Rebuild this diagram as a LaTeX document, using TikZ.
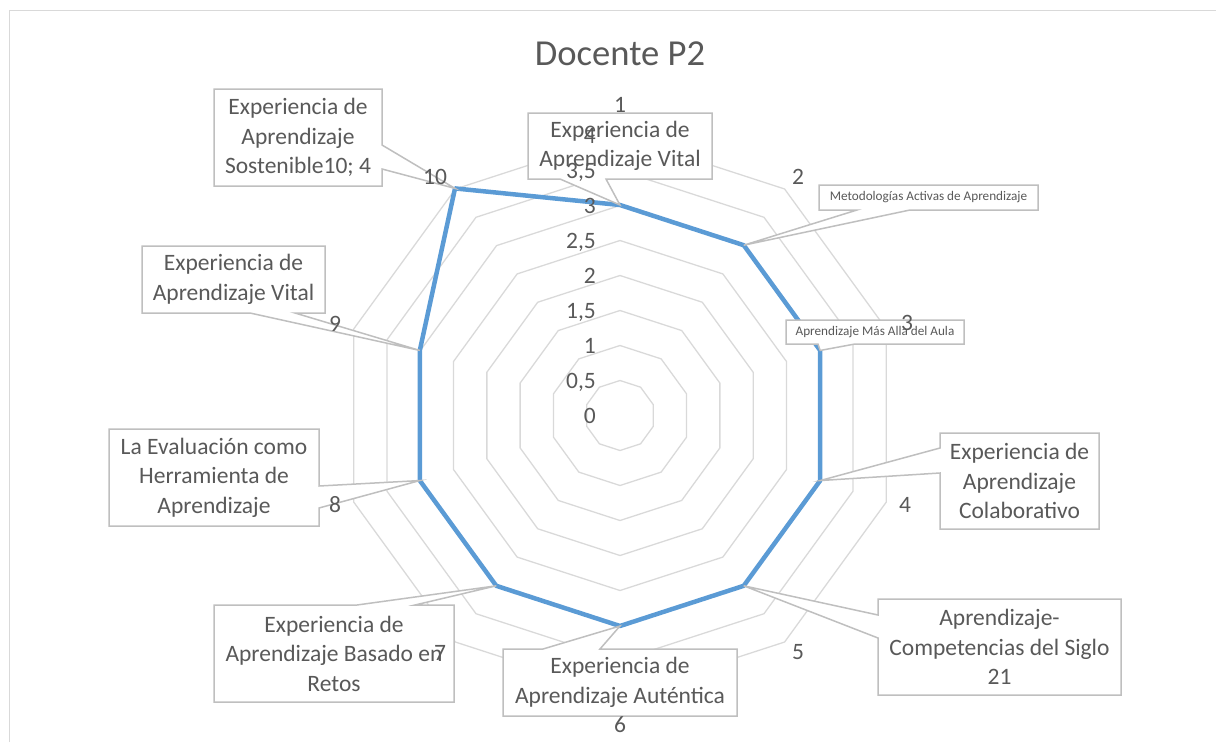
\documentclass[tikz,border=0pt]{standalone}
\usepackage{fontspec}
\setmainfont{Carlito}
\usetikzlibrary{calc}
\definecolor{txt}{HTML}{595959}
\definecolor{boxline}{HTML}{BFBFBF}
\definecolor{grid}{HTML}{D9D9D9}
\definecolor{serie}{HTML}{5B9BD5}
\tikzset{
  gridring/.style={draw=grid, line width=1.3pt},
  serieline/.style={draw=serie, line width=4.5pt, line join=round},
  callout/.style={draw=boxline, fill=white, line width=1.5pt, line join=miter},
  boxtext/.style={text=txt, align=center, inner sep=0pt, font=\fontsize{23.5}{29.5}\selectfont},
  smalltext/.style={text=txt, align=center, inner sep=0pt, font=\fontsize{13.2}{16}\selectfont},
  catlabel/.style={text=txt, anchor=base, inner sep=0pt, font=\fontsize{23.5}{29.5}\selectfont},
  vallabel/.style={text=txt, anchor=base east, inner sep=0pt, font=\fontsize{23.5}{29.5}\selectfont},
  charttitle/.style={text=txt, anchor=base, inner sep=0pt, font=\fontsize{36.6}{44}\selectfont}
}
\begin{document}
\begin{tikzpicture}[x=1pt,y=-1pt]
\useasboundingbox (0,0) rectangle (1216,742);
% chart frame
\draw[grid, line width=1.5pt] (9.5,742) -- (9.5,10.5) -- (1216,10.5);
% title
\node[charttitle] (title) at (620,65) {Docente P2};
% centre
\coordinate (O) at (620,415.5);
% rings
\foreach \r in {35,70,...,280}{
  \draw[gridring] ($(O)+(-90:\r)$) \foreach \k in {1,...,9}{ -- ($(O)+({36*\k-90}:\r)$) } -- cycle;
}
% data points
\coordinate (p1) at ($(O)+(-90:210.5)$);
\coordinate (p2) at ($(O)+(-54:210.5)$);
\coordinate (p3) at ($(O)+(-18:210.5)$);
\coordinate (p4) at ($(O)+(18:210.5)$);
\coordinate (p5) at ($(O)+(54:210.5)$);
\coordinate (p6) at ($(O)+(90:210.5)$);
\coordinate (p7) at ($(O)+(126:210.5)$);
\coordinate (p8) at ($(O)+(162:210.5)$);
\coordinate (p9) at ($(O)+(198:210.5)$);
\coordinate (p10) at ($(O)+(234:280.7)$);
\draw[serieline] (p1) -- (p2) -- (p3) -- (p4) -- (p5) -- (p6) -- (p7) -- (p8) -- (p9) -- (p10) -- cycle;
% callouts
\draw[callout] (528,113) -- (712,113) -- (712,179) -- (606,179) -- (p1) -- (560,179) -- (528,179) -- cycle;
\node[boxtext] (l1) at (620,146) {Experiencia de\\Aprendizaje Vital};
\draw[callout] (819,185) -- (1038,185) -- (1038,210) -- (910,210) -- (p2) -- (857,210) -- (819,210) -- cycle;
\node[smalltext] (l2) at (928.5,197.5) {Metodologías Activas de Aprendizaje};
\draw[callout] (786,320) -- (964,320) -- (964,344) -- (855,344) -- (p3) -- (818,344) -- (786,344) -- cycle;
\node[smalltext] (l3) at (875,332) {Aprendizaje Más Alla del Aula};
\draw[callout] (940,433) -- (1099,433) -- (1099,529) -- (940,529) -- (940,473) -- (p4) -- (940,448) -- cycle;
\node[boxtext] (l4) at (1019.5,481) {Experiencia de\\Aprendizaje\\Colaborativo};
\draw[callout] (878,599) -- (1121,599) -- (1121,695) -- (878,695) -- (878,638) -- (p5) -- (878,615) -- cycle;
\node[boxtext] (l5) at (999.5,647) {Aprendizaje-\\Competencias del Siglo\\21};
\draw[callout] (503,649) -- (543,649) -- (p6) -- (600,649) -- (737,649) -- (737,716) -- (503,716) -- cycle;
\node[boxtext] (l6) at (620,682.5) {Experiencia de\\Aprendizaje Auténtica};
\draw[callout] (214,605) -- (357,605) -- (p7) -- (415,605) -- (454,605) -- (454,702) -- (214,702) -- cycle;
\node[boxtext] (l7) at (334,653.5) {Experiencia de\\Aprendizaje Basado en\\Retos};
\draw[callout] (109,429) -- (319,429) -- (319,486) -- (p8) -- (319,508) -- (319,526) -- (109,526) -- cycle;
\node[boxtext] (l8) at (214,477.5) {La Evaluación como\\Herramienta de\\Aprendizaje};
\draw[callout] (142,246) -- (325,246) -- (325,313) -- (295,313) -- (p9) -- (250,313) -- (142,313) -- cycle;
\node[boxtext] (l9) at (233.5,279.5) {Experiencia de\\Aprendizaje Vital};
\draw[callout] (214,89) -- (382,89) -- (382,145) -- (p10) -- (382,169) -- (382,186) -- (214,186) -- cycle;
\node[boxtext] (l10) at (298,137.5) {Experiencia de\\Aprendizaje\\Sostenible10; 4};
% value axis labels
\foreach \v/\t in {0/0,1/{0,5},2/1,3/{1,5},4/2,5/{2,5},6/3,7/{3,5},8/4}{
  \node[vallabel] (v\v) at (596,{423-35*\v}) {\t};
}
% category labels
\node[catlabel] (c1) at (620,112.5) {1};
\node[catlabel] (c2) at (798,184.5) {2};
\node[catlabel] (c3) at (907,330.5) {3};
\node[catlabel] (c4) at (905,512.5) {4};
\node[catlabel] (c5) at (798,659.5) {5};
\node[catlabel] (c6) at (620,732.5) {6};
\node[catlabel] (c7) at (440,660.5) {7};
\node[catlabel] (c8) at (335,512.5) {8};
\node[catlabel] (c9) at (335,331.5) {9};
\node[catlabel] (c10) at (435,184.5) {10};
\end{tikzpicture}
\end{document}
